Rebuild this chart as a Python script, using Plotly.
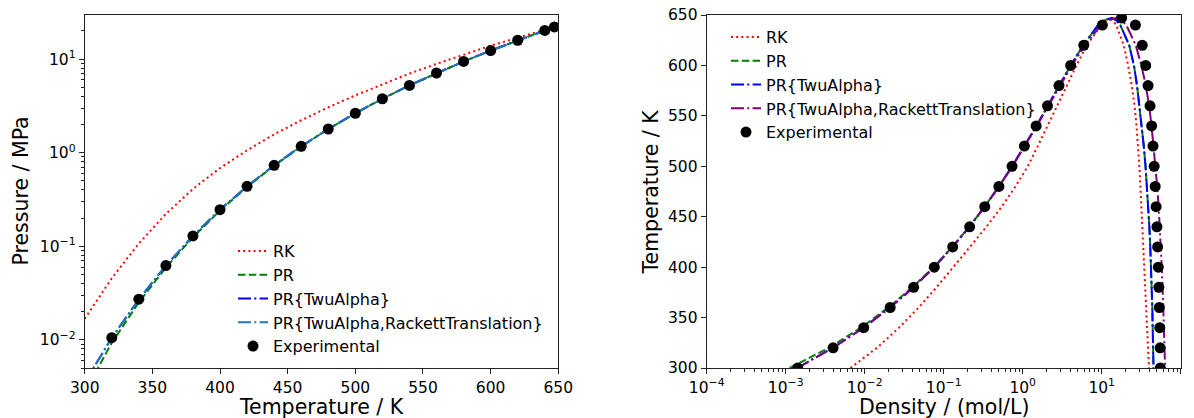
import plotly.graph_objects as go

# ---------------- data ----------------
# Left panel: vapour pressure vs temperature
T_model = [300, 320, 340, 360, 380, 400, 420, 440, 460, 480, 500, 520, 540,
           560, 580, 600, 620, 640, 645, 647.1]
P_RK = [0.0168, 0.0455, 0.107, 0.222, 0.410, 0.685, 1.06, 1.57, 2.22, 3.05,
        4.10, 5.40, 7.00, 8.90, 11.2, 13.9, 16.9, 20.4, 21.5, 22.06]
P_PR = [0.00275, 0.0093, 0.0252, 0.0592, 0.1245, 0.2405, 0.4315, 0.727, 1.165,
        1.785, 2.635, 3.765, 5.235, 7.10, 9.44, 12.34, 15.90, 20.26, 21.45, 22.06]
P_Twu = [0.00350, 0.01050, 0.0271, 0.0621, 0.1287, 0.2456, 0.4372, 0.7335, 1.171,
         1.790, 2.640, 3.770, 5.24, 7.10, 9.44, 12.34, 15.90, 20.26, 21.45, 22.06]
P_TwuRackett = [0.00350, 0.01050, 0.0271, 0.0621, 0.1287, 0.2456, 0.4372, 0.7335,
                1.171, 1.790, 2.640, 3.770, 5.24, 7.10, 9.44, 12.34, 15.90, 20.26,
                21.45, 22.06]

T_exp = [300, 320, 340, 360, 380, 400, 420, 440, 460, 480, 500, 520, 540, 560,
         580, 600, 620, 640, 647.1]
P_exp = [0.003537, 0.010546, 0.027188, 0.062194, 0.12885, 0.24577, 0.43730,
         0.73367, 1.1709, 1.7905, 2.6392, 3.7690, 5.2369, 7.1062, 9.4480, 12.345,
         15.901, 20.265, 22.064]

# Right panel: saturated densities (mol/L) vs temperature
rho_vap_RK = [0.0066, 0.0143, 0.0272, 0.0483, 0.081, 0.133, 0.215, 0.347, 0.543,
              0.81, 1.16, 1.55, 2.07, 2.74, 3.63, 4.78, 6.5, 9.8, 11.3, 12.3]
rho_liq_RK = [39.7, 38.8, 37.9, 36.9, 35.8, 34.7, 33.7, 32.7, 31.8, 30.9, 30.0,
              28.9, 27.6, 26.1, 24.0, 21.6, 19.0, 15.3, 13.6, 12.3]
rho_vap_PR = [0.00112, 0.00353, 0.0090, 0.0200, 0.0402, 0.0745, 0.128, 0.211,
              0.330, 0.50, 0.735, 1.055, 1.49, 2.08, 2.90, 4.05, 5.85, 9.0, 11.0, 13.4]
rho_liq_PR = [45.2, 44.7, 44.2, 43.7, 43.0, 42.2, 41.2, 40.1, 38.9, 37.5, 35.9,
              34.1, 32.1, 30.1, 28.0, 25.6, 22.3, 17.2, 15.2, 13.4]
rho_vap_Twu = [0.00140, 0.00396, 0.0097, 0.0210, 0.0415, 0.0758, 0.129, 0.212,
               0.330, 0.50, 0.735, 1.055, 1.49, 2.08, 2.90, 4.05, 5.85, 9.0, 11.0, 13.4]
rho_liq_Twu = [45.3, 44.8, 44.2, 43.7, 43.0, 42.2, 41.2, 40.1, 38.9, 37.5, 35.9,
               34.1, 32.1, 30.1, 28.0, 25.6, 22.3, 17.2, 15.2, 13.4]
rho_vap_TwuRackett = [0.00140, 0.00396, 0.0097, 0.0210, 0.0415, 0.0758, 0.129,
                      0.212, 0.331, 0.502, 0.74, 1.065, 1.51, 2.12, 2.98, 4.2,
                      6.15, 9.8, 12.3, 15.5]
rho_liq_TwuRackett = [63.5, 62.6, 61.4, 60.3, 59.0, 57.6, 56.2, 54.5, 52.6, 50.4,
                      47.9, 45.4, 42.8, 39.8, 36.2, 31.8, 27.0, 20.5, 17.8, 15.5]

T_exp_sat = [300, 320, 340, 360, 380, 400, 420, 440, 460, 480, 500, 520, 540,
             560, 580, 600, 620, 640]
rho_vap_exp = [0.00142, 0.00398, 0.00971, 0.0210, 0.0416, 0.0760, 0.130, 0.213,
               0.331, 0.50, 0.733, 1.05, 1.48, 2.06, 2.88, 4.05, 5.93, 10.2]
rho_liq_exp = [55.32, 54.92, 54.37, 53.70, 52.92, 52.04, 51.06, 50.0, 48.82,
               47.54, 46.15, 44.61, 42.89, 40.93, 38.63, 36.05, 32.58, 26.73]
T_crit = 647.1
rho_crit = 17.87

left_labels = ["RK", "PR", "PR{TwuAlpha}", "PR{TwuAlpha,RackettTranslation}"]
right_labels = ["RK", "PR", "PR{TwuAlpha}", "PR{TwuAlpha,RackettTranslation}"]

# ---------------- styling ----------------
FONT = "DejaVu Sans"
TICK_FS = 15.5
TITLE_FS = 20.5
LEG_FS = 16
LW = 2
W, H = 1194, 418
AXIS_COLOR = "#222222"

styles_left = [
    dict(color="#ff0000", dash="2px,3.2px"),
    dict(color="#008000", dash="7.5px,3.3px"),
    dict(color="#0000ff", dash="13px,3.3px,2px,3.3px"),
    dict(color="#1f77b4", dash="13px,3.3px,2px,3.3px"),
]
styles_right = [
    dict(color="#ff0000", dash="2px,3.2px"),
    dict(color="#008000", dash="7.5px,3.3px"),
    dict(color="#0000ff", dash="13px,3.3px,2px,3.3px"),
    dict(color="#800080", dash="13px,3.3px,2px,3.3px"),
]

fig = go.Figure()

# Left panel traces
for lab, st, P in zip(left_labels, styles_left, [P_RK, P_PR, P_Twu, P_TwuRackett]):
    fig.add_trace(go.Scatter(x=T_model, y=P, mode="lines", name=lab,
                             line=dict(color=st["color"], dash=st["dash"], width=LW),
                             xaxis="x", yaxis="y", legend="legend"))
fig.add_trace(go.Scatter(x=T_exp, y=P_exp, mode="markers", name="Experimental",
                         marker=dict(color="black", size=11),
                         xaxis="x", yaxis="y", legend="legend"))

# Right panel traces (vapour branch up to critical point, then liquid branch down)
right_sets = [(rho_vap_RK, rho_liq_RK), (rho_vap_PR, rho_liq_PR),
              (rho_vap_Twu, rho_liq_Twu), (rho_vap_TwuRackett, rho_liq_TwuRackett)]
for lab, st, (rv, rl) in zip(right_labels, styles_right, right_sets):
    xs = list(rv) + list(reversed(rl[:-1]))
    ys = list(T_model) + list(reversed(T_model[:-1]))
    fig.add_trace(go.Scatter(x=xs, y=ys, mode="lines", name=lab,
                             line=dict(color=st["color"], dash=st["dash"], width=LW),
                             xaxis="x2", yaxis="y2", legend="legend2"))
x_exp = list(rho_vap_exp) + [rho_crit] + list(reversed(rho_liq_exp))
y_exp = list(T_exp_sat) + [T_crit] + list(reversed(T_exp_sat))
fig.add_trace(go.Scatter(x=x_exp, y=y_exp, mode="markers", name="Experimental",
                         marker=dict(color="black", size=11),
                         xaxis="x2", yaxis="y2", legend="legend2"))

# ---------------- axes ----------------
def px_x(p):
    return p / W

def px_y(p):
    return (H - p) / H

xl0, xl1 = 84.7, 558.3
xr0, xr1 = 706.7, 1180.7
yt, yb = 15, 368

common = dict(showline=True, linecolor=AXIS_COLOR, linewidth=1, mirror=True,
              ticks="outside", ticklen=5, tickwidth=1, tickcolor=AXIS_COLOR,
              showgrid=False, zeroline=False,
              tickfont=dict(family=FONT, size=TICK_FS, color="black"),
              automargin=False)

dec_left = [1e-2, 1e-1, 1, 10]
dec_left_txt = ["10<sup>\u22122</sup>", "10<sup>\u22121</sup>", "10<sup>0</sup>", "10<sup>1</sup>"]
minor_left = [m * d for d in [1e-3, 1e-2, 1e-1, 1, 10] for m in range(2, 10)
              if 0.005 <= m * d <= 30]

dec_right = [1e-4, 1e-3, 1e-2, 1e-1, 1, 10, 100]
dec_right_txt = ["10<sup>\u22124</sup>", "10<sup>\u22123</sup>", "10<sup>\u22122</sup>",
                 "10<sup>\u22121</sup>", "10<sup>0</sup>", "10<sup>1</sup>", "10<sup>2</sup>"]
minor_right = [m * d for d in [1e-4, 1e-3, 1e-2, 1e-1, 1, 10] for m in range(2, 10)]

fig.update_layout(
    width=W, height=H,
    margin=dict(l=0, r=0, t=0, b=0),
    paper_bgcolor="white", plot_bgcolor="white",
    font=dict(family=FONT, color="black"),
    xaxis=dict(domain=[px_x(xl0), px_x(xl1)], range=[300, 650], anchor="y",
               tickvals=[300, 350, 400, 450, 500, 550, 600, 650], **common),
    yaxis=dict(domain=[px_y(yb), px_y(yt)], type="log", range=[-2.3010, 1.4713],
               anchor="x", tickvals=dec_left, ticktext=dec_left_txt,
               minor=dict(tickvals=minor_left, ticks="outside", ticklen=3,
                          tickcolor=AXIS_COLOR, showgrid=False),
               **common),
    xaxis2=dict(domain=[px_x(xr0), px_x(xr1)], type="log", range=[-4, 2], anchor="y2",
                tickvals=dec_right, ticktext=dec_right_txt,
                minor=dict(tickvals=minor_right, ticks="outside", ticklen=3,
                           tickcolor=AXIS_COLOR, showgrid=False),
                **common),
    yaxis2=dict(domain=[px_y(yb), px_y(yt)], range=[300, 650], anchor="x2",
                tickvals=[300, 350, 400, 450, 500, 550, 600, 650], **common),
    legend=dict(x=px_x(233), y=px_y(234), xanchor="left", yanchor="top",
                bgcolor="rgba(0,0,0,0)", borderwidth=0,
                font=dict(family=FONT, size=LEG_FS, color="black")),
    legend2=dict(x=px_x(726), y=px_y(20), xanchor="left", yanchor="top",
                 bgcolor="rgba(0,0,0,0)", borderwidth=0,
                 font=dict(family=FONT, size=LEG_FS, color="black")),
    showlegend=True,
)

ann = dict(xref="paper", yref="paper", showarrow=False,
           font=dict(family=FONT, size=TITLE_FS, color="black"))
fig.add_annotation(text="Pressure / MPa", x=px_x(20), y=px_y((yt + yb) / 2),
                   textangle=-90, xanchor="center", yanchor="middle", **ann)
fig.add_annotation(text="Temperature / K", x=px_x((xl0 + xl1) / 2), y=px_y(406.5),
                   xanchor="center", yanchor="middle", **ann)
fig.add_annotation(text="Temperature / K", x=px_x(650), y=px_y((yt + yb) / 2),
                   textangle=-90, xanchor="center", yanchor="middle", **ann)
fig.add_annotation(text="Density / (mol/L)", x=px_x((xr0 + xr1) / 2), y=px_y(406.5),
                   xanchor="center", yanchor="middle", **ann)

fig.write_html("out.html", config={"displayModeBar": False},
               post_script="document.body.style.margin='0px';")
